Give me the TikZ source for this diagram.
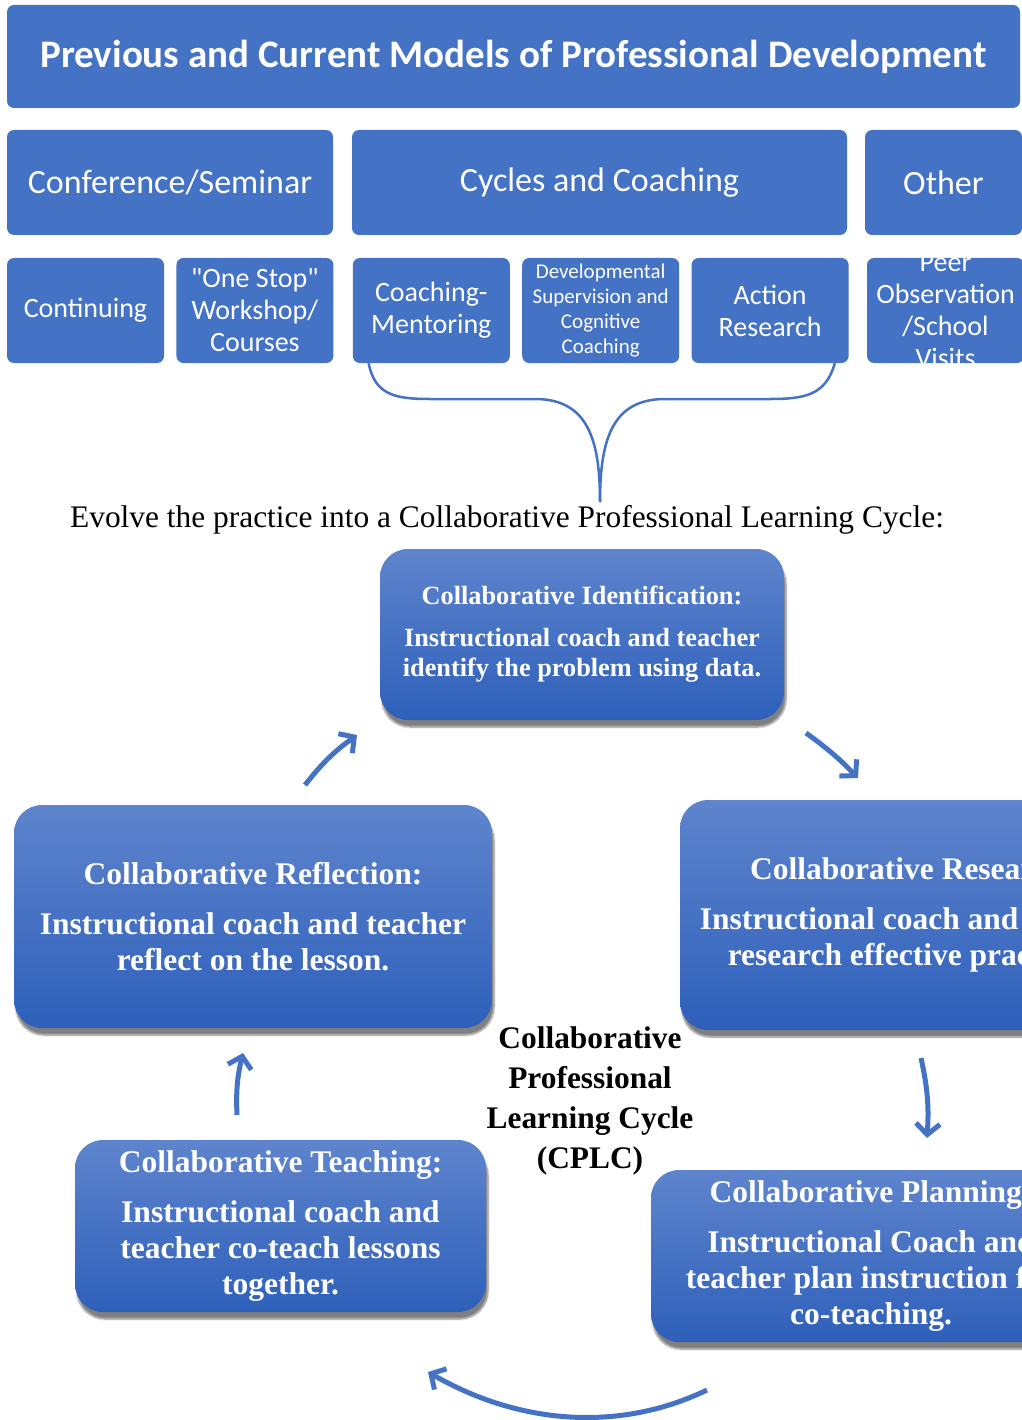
\documentclass[tikz,border=0pt]{standalone}
\usepackage{fontspec}
\setmainfont{Liberation Serif}
\newfontfamily\calfont{Carlito}
\usetikzlibrary{positioning, shadows.blur, arrows.meta}

\definecolor{pdblue}{RGB}{68,114,196}
\definecolor{cyctop}{RGB}{94,132,205}
\definecolor{cycbot}{RGB}{46,96,186}

\begin{document}
\begin{tikzpicture}[x=1pt, y=-1pt,
  pdbox/.style={fill=pdblue, rounded corners=7pt, text=white, align=center, inner sep=0pt},
  topbox/.style={pdbox, minimum height=105pt, font=\calfont\fontsize{34}{38}\selectfont},
  lowbox/.style={pdbox, minimum width=157pt, minimum height=105pt, font=\calfont\fontsize{28}{32}\selectfont},
  cycbox/.style={rounded corners=28pt, top color=cyctop, bottom color=cycbot, text=white, align=center, inner sep=0pt,
    blur shadow={shadow xshift=2pt, shadow yshift=-7pt, shadow opacity=50, shadow blur steps=6}},
  big/.style={font=\bfseries\fontsize{31.5}{36}\selectfont},
  cyc/.style={draw=pdblue, line width=5pt, -{Straight Barb[length=11pt, width=24pt]}}]
\useasboundingbox (0,0) rectangle (1021,1420);

% previous and current models
\node[pdbox, minimum width=1013pt, minimum height=103pt, font=\calfont\bfseries\fontsize{39}{44}\selectfont] (title) at (513.5,56.5) {Previous and Current Models of Professional Development};
\node[topbox, minimum width=326pt] (conf) at (170,182.5) {Conference/Seminar};
\node[topbox, minimum width=495pt] (cyc) at (599.5,182.5) {Cycles and Coaching};
\node[topbox, minimum width=157pt] (other) at (943.5,182.5) {Other};

\node[lowbox] (cont) at (85.5,310.5) {Continuing};
\node[lowbox, right=12pt of cont] (onestop) {"One Stop"\\Workshop/\\Courses};
\node[lowbox, right=19pt of onestop] (cm) {Coaching-\\Mentoring};
\node[lowbox, right=12pt of cm, font=\calfont\fontsize{21}{25}\selectfont] (dev) {Developmental\\Supervision and\\Cognitive\\Coaching};
\node[lowbox, right=12pt of dev] (ar) {Action\\Research};
\node[lowbox, right=18pt of ar] (peer) {};
\begin{scope}
\clip (peer.north west) rectangle (peer.south east);
\node[text=white, align=center, font=\calfont\fontsize{28}{32}\selectfont] (peertext) at (peer.center) {Peer\\Observation\\/School\\Visits};
\end{scope}

% brace down to the cycle
\coordinate (tip) at (600,502);
\draw[pdblue, line width=2.5pt] ([xshift=16pt]cm.south west) .. controls (375,395) and (395,399) .. (430,399)
  -- (535,399) .. controls (588,399) and (600,440) .. (tip);
\draw[pdblue, line width=2.5pt] ([xshift=-14pt]ar.south east) .. controls (826,395) and (805,399) .. (770,399)
  -- (665,399) .. controls (612,399) and (600,440) .. (tip);

\node[font=\fontsize{31.4}{36}\selectfont] (evolve) at (507,520) {Evolve the practice into a Collaborative Professional Learning Cycle:};

% the cycle
\node[cycbox, minimum width=404pt, minimum height=171pt, font=\bfseries\fontsize{26.3}{30}\selectfont] (ident) at (582,634.5)
  {Collaborative Identification:\\[12pt]Instructional coach and teacher\\identify the problem using data.};
\node[cycbox, big, minimum width=478pt, minimum height=223pt] (refl) at (253,916.5)
  {Collaborative Reflection:\\[14pt]Instructional coach and teacher\\reflect on the lesson.};
\node[cycbox, big, minimum width=466pt, minimum height=230pt] (res) at (913,915)
  {Collaborative Research:\\[14pt]Instructional coach and teacher\\research effective practices.};
\node[cycbox, big, minimum width=411pt, minimum height=172pt] (teach) at (280.5,1226)
  {Collaborative Teaching:\\[14pt]Instructional coach and\\teacher co-teach lessons\\together.};
\node[cycbox, big, minimum width=440pt, minimum height=172pt] (plan) at (871,1256)
  {Collaborative Planning:\\[14pt]Instructional Coach and\\teacher plan instruction for\\co-teaching.};
\node[align=center, font=\bfseries\fontsize{31.4}{40}\selectfont] (cplc) at (590,1101)
  {Collaborative\\Professional\\Learning Cycle\\(CPLC)};

\coordinate (a1s) at (305,785); \coordinate (a1e) at (357,735);
\coordinate (a2s) at (806,733); \coordinate (a2e) at (858,778);
\coordinate (a3s) at (921,1058); \coordinate (a3e) at (927,1138);
\coordinate (a4s) at (707,1390); \coordinate (a4e) at (428,1372);
\coordinate (a5s) at (237,1115); \coordinate (a5e) at (243,1053);
\draw[cyc] (a1s) to[bend left=8] (a1e);
\draw[cyc] (a2s) to[bend left=5] (a2e);
\draw[cyc] (a3s) to[bend left=8] (a3e);
\draw[cyc] (a4s) .. controls (620,1432) and (520,1425) .. (a4e);
\draw[cyc] (a5s) to[bend left=8] (a5e);
\end{tikzpicture}
\end{document}
